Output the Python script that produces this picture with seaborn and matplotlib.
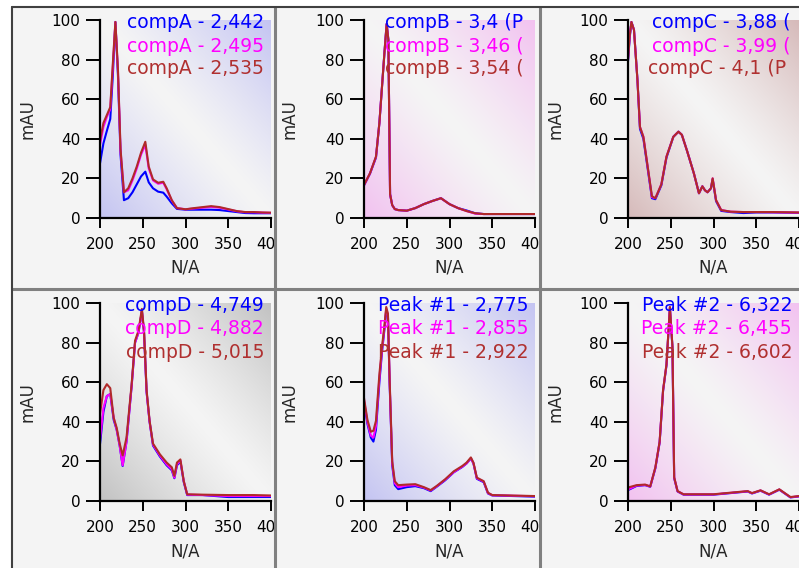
import numpy as np
import pandas as pd
import matplotlib
matplotlib.use('Agg')
import matplotlib.pyplot as plt
import seaborn as sns
from matplotlib.patches import Rectangle
from matplotlib.lines import Line2D
from matplotlib.colors import to_rgb

# === Data ===
trace_names = ['blue', 'magenta', 'brown']

wl_a = [200, 204, 208, 212, 215, 218, 221, 224, 228, 233, 238, 243, 248, 253, 257, 262, 268, 274, 278, 284, 290,
        300, 310, 320, 330, 340, 350, 360, 370, 380, 390, 400]
a_blue = [27.6, 37.7, 44, 50, 72, 99, 72, 32, 9, 10, 13, 17, 21, 23.4, 18, 15, 13.3, 12.8, 10.8, 7.4, 4.6,
          4.2, 4.2, 4.2, 4.2, 4, 3.5, 3, 2.5, 2.4, 2.4, 2.4]
a_magenta = [37, 46, 51, 55, 76, 99, 74, 34, 13, 14, 19, 25, 32, 37, 25, 19, 17.3, 17.8, 14.5, 8.8, 5,
             4.4, 4.8, 5.2, 5.6, 5.2, 4.3, 3.4, 2.9, 2.9, 2.7, 2.6]
a_brown = [39, 48, 52, 56, 78, 99, 75, 35, 13, 15, 20, 26, 33, 38.5, 26, 19.5, 17.8, 18.3, 15, 9, 5,
           4.4, 5, 5.5, 6, 5.5, 4.5, 3.5, 3, 3, 2.8, 2.7]
labels_a = ['compA - 2,442', 'compA - 2,495', 'compA - 2,535']

wl_b = [200, 207, 214, 218, 221, 224, 226.5, 228.5, 230.5, 233, 236, 240, 250, 260, 270, 280, 290, 295, 300,
        310, 320, 330, 340, 400]
b_blue = [16.5, 22.4, 30.5, 48, 66, 84, 98, 90, 12, 6.5, 4.5, 4, 3.7, 5, 7, 8.6, 10, 8.5, 7, 5, 3.8, 2.4, 2, 2]
b_magenta = [16.5, 22.5, 30.8, 48, 66, 84, 98, 90, 12, 6.5, 4.5, 4, 3.7, 5, 7, 8.6, 10, 8.5, 7, 5, 3.5, 2.2, 2, 2]
b_brown = [16.7, 22.6, 31, 48, 66, 84, 98, 90, 12, 6.5, 4.5, 4, 3.7, 5, 7, 8.6, 10, 8.5, 7, 5, 3.5, 2.4, 2, 2]
labels_b = ['compB - 3,4 (P', 'compB - 3,46 (', 'compB - 3,54 (']

wl_c = [200, 202, 204, 207, 211, 214, 218, 222, 228, 232, 239, 245, 253, 259, 263, 269, 277, 283, 287, 290,
        293, 297, 299, 303, 309, 320, 335, 350, 370, 400]
c_blue = [79, 91, 99, 95, 70, 45, 40, 28, 10, 9.5, 16.5, 30.5, 41, 43.6, 42, 34, 22.6, 12.5, 16, 14,
          13, 15, 19.5, 8.5, 3.6, 3, 2.5, 2.8, 2.8, 2.6]
c_magenta = [80, 92, 99, 95, 70, 46, 41, 29, 10.5, 10, 17, 31, 41, 43.6, 42, 34, 22.6, 12.5, 16, 14,
             13, 15, 20, 9, 4, 3.2, 3, 3, 2.9, 2.7]
c_brown = [80, 92, 99, 95, 70, 46, 41, 29, 11, 10, 17, 31, 41, 43.6, 42, 34, 22.6, 12.5, 16, 14,
           13, 15, 20, 9, 4, 3.2, 3, 3, 3, 2.8]
labels_c = ['compC - 3,88 (', 'compC - 3,99 (', 'compC - 4,1 (P']

wl_d = [200, 204, 208, 212, 216, 219.5, 223, 226.5, 231, 237, 241, 245, 249, 251.5, 254.5, 258, 262, 270,
        278, 284, 287, 290, 294, 298, 302, 320, 350, 380, 400]
d_blue = [28.7, 45, 53, 54, 41, 36, 28, 17.7, 30, 58, 80, 85, 96, 85, 55, 40, 28, 22.5, 18, 15.5, 11.5,
          18, 20, 9.5, 3, 3, 2, 2, 2]
d_magenta = [31, 47, 53, 54, 42, 36, 28, 18, 30, 58, 80, 85, 96, 85, 55, 40, 28.5, 23, 18.5, 16, 11.8,
             18.5, 20.5, 10, 3.2, 3, 2.5, 2.5, 2.5]
d_brown = [44, 56, 59, 57, 42, 37, 29, 23, 32, 59, 81, 86, 97, 86, 56, 40.5, 29, 23.6, 19.4, 17, 12.7,
           19.4, 21, 10, 3.4, 3.2, 3, 3, 2.8]
labels_d = ['compD - 4,749', 'compD - 4,882', 'compD - 5,015']

wl_e = [200, 204, 208, 211, 214, 218, 221, 224, 226, 228, 230, 233, 236, 240, 250, 260, 270, 278, 285, 295,
        305, 315, 320, 325, 328, 332, 340, 345, 350, 400]
e_blue = [50, 39, 32, 30, 36, 60, 75, 87, 96, 93, 59, 18, 8, 6, 7, 7.5, 6.5, 5, 7.2, 10.5,
          14.5, 17.2, 19, 21.5, 19, 11.2, 9.5, 3.8, 2.8, 2.2]
e_magenta = [51, 40, 33, 32, 38, 62, 76, 88, 97, 94, 60, 19, 9, 7, 7.8, 8, 6.8, 5.3, 7.4, 10.8,
             14.6, 17.4, 19, 21.6, 19, 11.5, 9.8, 4, 2.9, 2.4]
e_brown = [52, 41, 35, 35.5, 40.5, 64, 77.7, 89, 98, 94.6, 61, 20, 10, 8, 8.3, 8.5, 7, 5.5, 7.6, 11,
           15, 17.7, 19.4, 22, 19.4, 11.8, 10, 4.2, 3, 2.5]
labels_e = ['Peak #1 - 2,775', 'Peak #1 - 2,855', 'Peak #1 - 2,922']

wl_f = [200, 210, 220, 226, 232, 237, 241, 245, 249, 252, 254, 258, 265, 300, 320, 340, 345, 355, 365, 377,
        390, 400]
f_blue = [5.5, 7.6, 8, 7.2, 16.5, 29.5, 55.5, 68.5, 97.5, 77.5, 11.5, 4.8, 3.2, 3.2, 4, 4.8, 3.8, 5.2,
          3.2, 5.7, 1.8, 2.3]
f_magenta = [5.8, 7.8, 8.1, 7.3, 16.8, 29.8, 55.8, 68.8, 97.8, 77.8, 11.8, 4.9, 3.3, 3.3, 4.1, 4.9, 3.9,
             5.3, 3.3, 5.8, 1.9, 2.4]
f_brown = [6.8, 8, 8.3, 7.4, 17, 30, 56, 69, 98, 78, 12, 5, 3.4, 3.4, 4.2, 5, 4, 5.4, 3.4, 5.9, 2, 2.5]
labels_f = ['Peak #2 - 6,322', 'Peak #2 - 6,455', 'Peak #2 - 6,602']

x_ticks = [200, 250, 300, 350, 400]
y_ticks = [0, 20, 40, 60, 80, 100]

panels = [
    (wl_a, [a_blue, a_magenta, a_brown], labels_a, '#c4c4f2'),
    (wl_b, [b_blue, b_magenta, b_brown], labels_b, '#f2c2f0'),
    (wl_c, [c_blue, c_magenta, c_brown], labels_c, '#d6baba'),
    (wl_d, [d_blue, d_magenta, d_brown], labels_d, '#c2c2c2'),
    (wl_e, [e_blue, e_magenta, e_brown], labels_e, '#c4c4f2'),
    (wl_f, [f_blue, f_magenta, f_brown], labels_f, '#f2c2f0'),
]

line_colors = {'blue': '#0000ff', 'magenta': '#ff00ff', 'brown': '#b02a2a'}
text_colors = ['#0000ff', '#ff00ff', '#b03030']

# === Layout (pixels) ===
W, H = 799, 568
sns.set_style('ticks')
plt.rcParams['font.family'] = ['DejaVu Sans']

fig = plt.figure(figsize=(W / 100, H / 100), dpi=100)
fig.patch.set_facecolor('white')


def fx(x):
    return x / W


def fy(y):
    return 1 - y / H


panel_x = [12, 275, 540]
panel_y = [7, 289]
axes_left = [100, 364, 628]
axes_top = [20, 303]
ax_w, ax_h = 171, 198
# left offset of the legend text for the clipped panels (None = right aligned)
text_left = [None, 21, [24, 24, 20], None, None, None]

# panel background
fig.patches.append(Rectangle((fx(12), 0), 1 - fx(12), fy(7), transform=fig.transFigure,
                             facecolor='#f4f4f4', edgecolor='none', zorder=-1))


def add_gradient(ax, color):
    n = 200
    xn, yn = np.meshgrid(np.linspace(0, 1, n), np.linspace(0, 1, n))
    t = np.abs(xn + yn - 1) ** 1.2
    base = np.array(to_rgb('#f5f5f5'))
    c = np.array(to_rgb(color))
    img = base + (c - base) * t[..., None]
    ax.imshow(img, extent=(200, 400, 0, 100), origin='lower', aspect='auto', zorder=0,
              interpolation='bilinear')


for i, (wl, series, labels, grad) in enumerate(panels):
    r, c = divmod(i, 3)
    x0 = panel_x[c] + 1
    x1 = (panel_x[c + 1] - 1) if c < 2 else W
    y0 = panel_y[r] + 1
    y1 = (panel_y[1] - 1) if r == 0 else H
    clip = Rectangle((fx(x0), fy(y1)), (x1 - x0) / W, (y1 - y0) / H, transform=fig.transFigure)

    ax = fig.add_axes([fx(axes_left[c]), fy(axes_top[r] + ax_h), ax_w / W, ax_h / H])
    ax.set_facecolor('none')
    add_gradient(ax, grad)

    df = pd.DataFrame({
        'wl': np.tile(wl, 3),
        'mAU': np.concatenate(series),
        'trace': np.repeat(trace_names, len(wl)),
    })
    sns.lineplot(data=df, x='wl', y='mAU', hue='trace', hue_order=trace_names, palette=line_colors,
                 linewidth=1.5, legend=False, ax=ax, zorder=2)

    ax.set_xlim(200, 400)
    ax.set_ylim(0, 100)
    ax.set_xticks(x_ticks)
    ax.set_yticks(y_ticks)
    for s in ['top', 'right']:
        ax.spines[s].set_visible(False)
    for s in ['left', 'bottom']:
        ax.spines[s].set_linewidth(1.6)
        ax.spines[s].set_color('black')
    ax.tick_params(axis='x', length=7, width=1.4, pad=6.5, labelsize=11, colors='black')
    ax.tick_params(axis='y', length=10, width=1.4, pad=4, labelsize=11, colors='black')
    for lbl in ax.get_xticklabels() + ax.get_yticklabels():
        lbl.set_clip_path(clip)

    ax.set_xlabel('N/A', fontsize=12)
    ax.set_ylabel('mAU', fontsize=12)
    ax.xaxis.set_label_coords(0.5, -50 / ax_h)
    ax.xaxis.label.set_verticalalignment('center')
    ax.yaxis.set_label_coords(-(axes_left[c] - (panel_x[c] + 15)) / ax_w, 0.5)
    ax.yaxis.label.set_verticalalignment('center')

    # legend text, three lines
    for k, (s, col) in enumerate(zip(labels, text_colors)):
        ty = axes_top[r] + 3 + 23 * k
        off = text_left[i]
        if off is None:
            t = fig.text(fx(axes_left[c] + ax_w - 7), fy(ty), s, ha='right', va='center',
                         color=col, fontsize=13.5)
        else:
            o = off[k] if isinstance(off, list) else off
            t = fig.text(fx(axes_left[c] + o), fy(ty), s, ha='left', va='center',
                         color=col, fontsize=13.5)
        t.set_clip_path(clip)

# === Panel borders ===
sep = dict(transform=fig.transFigure, color='#808080', linewidth=2.2, zorder=5)
fig.add_artist(Line2D([fx(275), fx(275)], [fy(7), 0], **sep))
fig.add_artist(Line2D([fx(540), fx(540)], [fy(7), 0], **sep))
fig.add_artist(Line2D([fx(12), 1], [fy(289), fy(289)], **sep))
edge = dict(transform=fig.transFigure, color='#404040', linewidth=1.5, zorder=5)
fig.add_artist(Line2D([fx(12), fx(12)], [fy(7), 0], **edge))
fig.add_artist(Line2D([fx(12), 1], [fy(7), fy(7)], **edge))

fig.savefig('out.png', dpi=100)
